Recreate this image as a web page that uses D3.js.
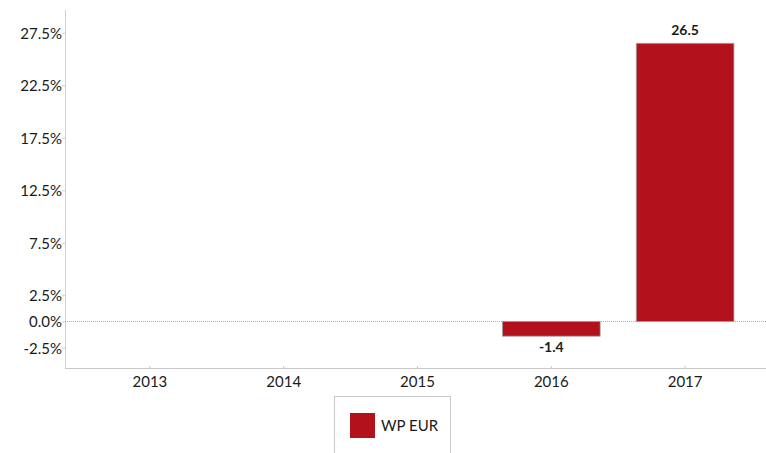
<!DOCTYPE html>
<html><head><meta charset="utf-8">
<script src="https://cdn.jsdelivr.net/npm/d3@7/dist/d3.min.js"></script>
<style>
body{margin:0;background:#fff;}
text{font-family:Lato,"Open Sans",sans-serif;fill:#1a1a1a;}
</style></head>
<body><svg id="c" width="766" height="453"></svg>
<script>
const categories = ["2013","2014","2015","2016","2017"];
const values = [null, null, null, -1.4, 26.5];
const seriesName = "WP EUR";
const tickValues = [-2.5, 0, 2.5, 7.5, 12.5, 17.5, 22.5, 27.5];

const svg = d3.select("#c");
const axisX = 65, plotRight = 766, plotTop = 10, plotBottom = 368;
const fmt = d => d3.format(".1f")(d).replace("\u2212", "-");

const y = d3.scaleLinear().domain([-4.43, 29.67]).range([plotBottom, plotTop]);
const x = d3.scaleBand().domain(categories).range([83, 752]).paddingInner(0.27).paddingOuter(0.135);

svg.append("line").attr("x1", axisX + 0.5).attr("x2", axisX + 0.5).attr("y1", plotTop).attr("y2", plotBottom)
  .attr("stroke", "#d0d0d0").attr("stroke-width", 1);
svg.append("line").attr("x1", axisX).attr("x2", plotRight).attr("y1", plotBottom + 0.5).attr("y2", plotBottom + 0.5)
  .attr("stroke", "#c8c8c8").attr("stroke-width", 1);

const yAxis = d3.axisLeft(y).tickValues(tickValues).tickSize(3).tickFormat(d => fmt(d) + "%");
const gy = svg.append("g").attr("transform", `translate(${axisX},0)`).call(yAxis);
gy.select(".domain").remove();
gy.selectAll(".tick line").attr("stroke", "#d0d0d0");
gy.selectAll(".tick text").attr("x", -3).attr("dy", "0.36em").style("font-size", "15px").attr("fill", "#1a1a1a");

const xAxis = d3.axisBottom(x).tickSize(-2).tickSizeOuter(0);
const gx = svg.append("g").attr("transform", `translate(0,${plotBottom})`).call(xAxis);
gx.select(".domain").remove();
gx.selectAll(".tick line").attr("stroke", "#c8c8c8");
gx.selectAll(".tick text").attr("y", 19).attr("dy", 0).style("font-size", "15px").attr("fill", "#1a1a1a");

svg.append("line").attr("x1", axisX).attr("x2", plotRight).attr("y1", Math.round(y(0)) + 0.5).attr("y2", Math.round(y(0)) + 0.5)
  .attr("stroke", "#b0b0b0").attr("stroke-width", 1).attr("stroke-dasharray", "1,1");

const data = categories.map((c, i) => ({c, v: values[i]})).filter(d => d.v !== null);

svg.selectAll("rect.bar").data(data).enter().append("rect").attr("class", "bar")
  .attr("x", d => x(d.c)).attr("width", x.bandwidth())
  .attr("y", d => y(Math.max(0, d.v))).attr("height", d => Math.abs(y(d.v) - y(0)))
  .attr("fill", "#b3121d").attr("stroke", "#a0a0a0").attr("stroke-width", 0.8);

svg.selectAll("text.lbl").data(data).enter().append("text").attr("class", "lbl")
  .attr("x", d => x(d.c) + x.bandwidth() / 2)
  .attr("y", d => d.v >= 0 ? y(d.v) - 8 : y(d.v) + 16)
  .attr("text-anchor", "middle").style("font-size", "14px").style("font-weight", "bold")
  .attr("fill", "#000").text(d => fmt(d.v));

const lg = svg.append("g");
lg.append("rect").attr("x", 334.5).attr("y", 396.5).attr("width", 116).attr("height", 70)
  .attr("fill", "#fff").attr("stroke", "#c8c8c8");
lg.append("rect").attr("x", 350).attr("y", 413).attr("width", 25).attr("height", 25).attr("fill", "#b3121d");
lg.append("text").attr("x", 381).attr("y", 431).style("font-size", "15px").attr("fill", "#1a1a1a").text(seriesName);
</script></body></html>
